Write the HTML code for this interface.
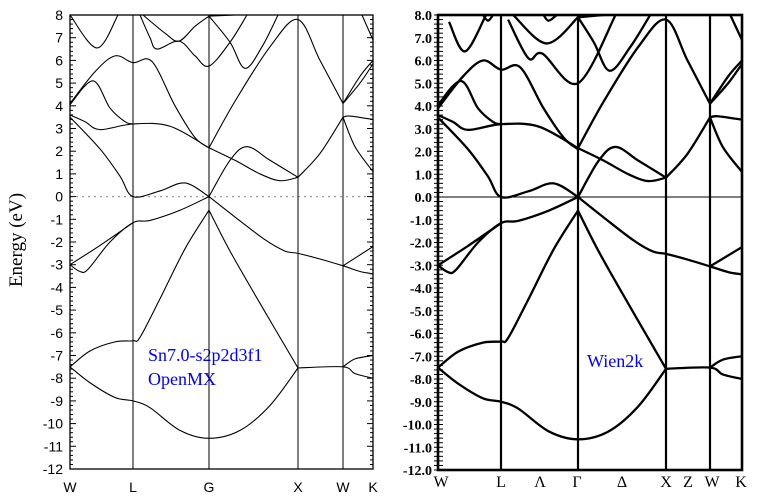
<!DOCTYPE html>
<html><head><meta charset="utf-8"><style>
body{margin:0;background:#fff;width:762px;height:500px;overflow:hidden}
svg{display:block}
</style></head><body>
<svg id="s" width="762" height="500" xmlns="http://www.w3.org/2000/svg">
<text x="22" y="240" transform="rotate(-90 22 240)" text-anchor="middle" font-family="Liberation Serif, serif" font-size="19">Energy (eV)</text>
<text x="148" y="361" font-family="Liberation Serif, serif" font-size="18" fill="#0000ff">Sn7.0-s2p2d3f1</text>
<text x="148" y="385" font-family="Liberation Serif, serif" font-size="18" fill="#0000ff">OpenMX</text>
<text x="587" y="367" font-family="Liberation Serif, serif" font-size="18" fill="#0000ff">Wien2k</text>
</svg>
<script>
var S=document.getElementById('s'),NS='http://www.w3.org/2000/svg';
function el(t,a,txt){var e=document.createElementNS(NS,t);for(var k in a)e.setAttribute(k,a[k]);if(txt!=null)e.textContent=txt;S.appendChild(e);return e;}
var K=[0,63,139,228,273,303];
function mk(nodes,y8,y12){
 return {x:function(k){for(var i=0;i<5;i++){if(k<=K[i+1]||i==4){var f=(k-K[i])/(K[i+1]-K[i]);return nodes[i]+f*(nodes[i+1]-nodes[i]);}}},
 y:function(E){return y8+(8-E)*(y12-y8)/20;}};
}
var L=mk([70,133,209,298,343,373],15,469);
var R=mk([438,501,578,666,710,742],15,470);
var common=[
[[0,-7.5],[20,-8.2],[45,-8.85],[63,-9.0],[80,-9.3],[110,-10.3],[139,-10.65],[170,-10.3],[200,-9.2],[228,-7.55]],
[[228,-7.55],[273,-7.5],[285,-7.8],[303,-8.0]],
[[0,-7.5],[20,-6.8],[45,-6.4],[63,-6.35],[70,-6.2],[90,-4.5],[115,-2.3],[139,-0.6]],
[[139,-0.6],[160,-2.4],[190,-4.7],[228,-7.55]],
[[273,-7.5],[285,-7.15],[303,-7.0]],
[[0,-3.0],[10,-3.3],[18,-3.2],[40,-2.0],[63,-1.15],[80,-1.05],[110,-0.6],[139,0]],
[[139,0],[165,-0.9],[195,-1.9],[215,-2.4],[228,-2.5],[250,-2.75],[273,-3.05],[290,-3.3],[303,-3.4]],
[[0,-3.0],[30,-2.15],[63,-1.15]],
[[273,-3.05],[303,-2.2]],
[[0,3.5],[30,2.1],[50,0.9],[63,0],[90,0.25],[115,0.6],[139,0]],
[[139,0],[160,1.6],[177,2.2],[200,1.6],[228,0.85]],
[[228,0.85],[250,1.9],[273,3.5]],
[[273,3.5],[285,2.2],[303,1.1]],
[[139,2.15],[165,1.6],[190,1.0],[210,0.7],[228,0.85]],
[[0,3.6],[15,3.3],[30,2.95],[63,3.2],[100,3.1],[139,2.15]],
[[273,3.5],[280,3.55],[303,3.4]],
[[0,4.05],[23,5.1],[40,3.9],[55,3.3],[63,3.2]],
[[139,2.15],[165,4.2],[200,6.6],[228,7.8],[250,6.0],[273,4.1]],
[[273,4.1],[290,5.3],[303,6.0]],
[[273,4.1],[290,5.0],[303,5.85]],
[[292,8],[303,6.9]]
];
var left=common.concat([
[[0,4.1],[25,5.5],[45,6.2],[63,5.9],[82,5.95],[105,4.0],[125,2.6],[139,2.15]],
[[0,8],[27,6.55],[48,8]],
[[70,8],[80,7.0],[87,6.5],[109,6.85],[125,6.2],[139,5.75],[160,6.8],[177,8]],
[[73,8],[95,7.2],[109,6.85],[125,7.5],[139,7.95]],
[[139,7.95],[160,6.8],[175,5.65],[192,6.6],[208,8]],
[[139,7.95],[165,8.0]]
]);
var right=common.concat([
[[0,3.9],[25,5.3],[45,6.0],[63,5.6],[82,5.7],[105,3.9],[125,2.6],[139,2.1]],
[[11,7.7],[27,6.4],[48,8]],
[[45,8],[50,7.75],[55,8]],
[[70,7.8],[90,6.1],[104,6.3],[139,5.0],[177,8]],
[[75,8],[108,6.75],[139,7.9]],
[[139,7.9],[155,6.8],[171,5.55],[192,6.6],[212,8]],
[[105,8],[110,7.75],[118,8]],
[[139,7.9],[165,8.0]]
]);
function path(pts,m){
 var p=pts.map(function(a){return [m.x(a[0]),m.y(a[1])];});
 var d='M'+p[0][0].toFixed(1)+' '+p[0][1].toFixed(1);
 for(var i=0;i<p.length-1;i++){
  var p0=p[i>0?i-1:i],p1=p[i],p2=p[i+1],p3=p[i+2<p.length?i+2:i+1];
  var c1=[p1[0]+(p2[0]-p0[0])/6,p1[1]+(p2[1]-p0[1])/6],c2=[p2[0]-(p3[0]-p1[0])/6,p2[1]-(p3[1]-p1[1])/6];
  d+=' C'+c1.join(' ')+' '+c2.join(' ')+' '+p2.join(' ');
 }
 return d;
}
function clip(id,x1,y1,x2,y2){var c=el('clipPath',{id:id});var r=document.createElementNS(NS,'rect');r.setAttribute('x',x1);r.setAttribute('y',y1);r.setAttribute('width',x2-x1);r.setAttribute('height',y2-y1);c.appendChild(r);}
clip('cl',70,15,373,469);clip('cr',438,15,742,470);
// left panel
el('line',{x1:70,y1:L.y(0),x2:373,y2:L.y(0),stroke:'#999','stroke-width':1.2,'stroke-dasharray':'2,4'});
[133,209,298,343].forEach(function(x){el('line',{x1:x,y1:15,x2:x,y2:469,stroke:'#000','stroke-width':1});});
var gl=el('g',{'clip-path':'url(#cl)',fill:'none',stroke:'#000','stroke-width':1.1});
left.forEach(function(b){var e=document.createElementNS(NS,'path');e.setAttribute('d',path(b,L));gl.appendChild(e);});
el('rect',{x:70,y:15,width:303,height:454,fill:'none',stroke:'#000','stroke-width':1.3});
for(var E=-12;E<=8;E+=0.2){var y=L.y(E),maj=Math.abs(E-Math.round(E))<0.01,w=maj?6:3;
 el('line',{x1:70,y1:y,x2:70+w,y2:y,stroke:'#000','stroke-width':1});el('line',{x1:373,y1:y,x2:373-w,y2:y,stroke:'#000','stroke-width':1});
 if(maj)el('text',{x:63,y:y+5,'text-anchor':'end','font-family':'Liberation Sans, sans-serif','font-size':14},String(Math.round(E)));}
[['W',70],['L',133],['G',209],['X',298],['W',343],['K',373]].forEach(function(a){el('text',{x:a[1],y:492,'text-anchor':'middle','font-family':'Liberation Sans, sans-serif','font-size':14},a[0]);});
// right panel
el('line',{x1:438,y1:R.y(0),x2:742,y2:R.y(0),stroke:'#000','stroke-width':1});
[501,578,666,710].forEach(function(x){el('line',{x1:x,y1:15,x2:x,y2:470,stroke:'#000','stroke-width':2.2});});
var gr=el('g',{'clip-path':'url(#cr)',fill:'none',stroke:'#000','stroke-width':2.3});
right.forEach(function(b){var e=document.createElementNS(NS,'path');e.setAttribute('d',path(b,R));gr.appendChild(e);});
el('rect',{x:438,y:15,width:304,height:455,fill:'none',stroke:'#000','stroke-width':2.6});
for(var E=-12;E<=8.001;E+=0.2){var y=R.y(E),maj=Math.abs(E-Math.round(E))<0.01;
 el('line',{x1:434,y1:y,x2:443,y2:y,stroke:'#000','stroke-width':1});
 if(maj)el('text',{x:432,y:y+5,'text-anchor':'end','font-family':'Liberation Serif, serif','font-size':14,'font-weight':'bold'},Math.round(E).toFixed(1));}
[['W',441],['L',501],['Λ',540],['Γ',577],['Δ',622],['X',666],['Z',688],['W',712],['K',741]].forEach(function(a){el('text',{x:a[1],y:487,'text-anchor':'middle','font-family':'Liberation Serif, serif','font-size':16},a[0]);});
</script>
</body></html>
